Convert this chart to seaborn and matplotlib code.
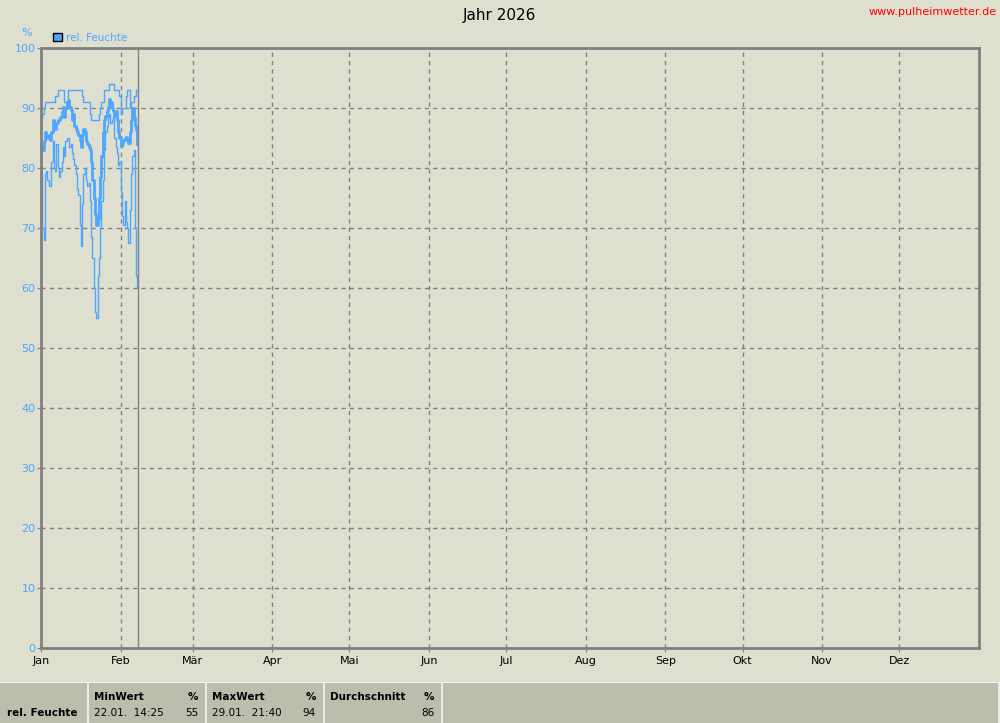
import matplotlib
matplotlib.use("Agg")
import matplotlib.pyplot as plt
import pandas as pd
import seaborn as sns
from matplotlib.patches import Rectangle, Patch

months = ["Jan", "Feb", "Mär", "Apr", "Mai", "Jun", "Jul", "Aug", "Sep", "Okt", "Nov", "Dez"]
month_start = [0, 31, 59, 90, 120, 151, 181, 212, 243, 273, 304, 334]
today = 37.6

# half-day steps since 1 Jan
day = [i / 2 for i in range(76)]

hum_max = [88, 89, 90, 91, 91, 91, 91, 91, 91, 91,
           91, 92, 92, 93, 93, 93, 93, 93, 91, 91,
           91, 93, 93, 93, 93, 93, 93, 93, 93, 93,
           93, 93, 92, 91, 91, 91, 91, 91, 89, 88,
           88, 88, 88, 88, 88, 89, 90, 91, 91, 93,
           93, 93, 93, 94, 94, 94, 94, 93, 93, 93,
           93, 92, 89, 90, 90, 90, 92, 93, 93, 90,
           91, 91, 92, 92, 93, 93]

hum_avg = [83.6, 83, 84.5, 86, 85.5, 85, 85.5, 84.7, 86, 88,
           87, 86.5, 87.5, 88, 88, 88.5, 89.4, 90.2, 88.5, 90,
           91, 91.3, 90.2, 89.6, 88, 89, 87, 86.5, 86, 85.5,
           84.7, 83.5, 85.5, 86.5, 86, 84.5, 84, 83.5, 83, 81,
           78, 75, 72.4, 70.5, 71.5, 75, 78.5, 82, 86, 88,
           88.6, 89.5, 90.2, 91.5, 91, 90, 89.5, 88.6, 89.5, 88,
           86, 85, 83.6, 84, 84.7, 85, 85.2, 84.7, 84.2, 86,
           88, 90, 88.5, 87, 86.3, 84]

hum_min = [79, 70, 68, 79, 79.5, 78, 77, 77, 81, 84.5,
           80, 79.5, 84, 80, 78.5, 79.5, 81, 83.5, 82, 84.5,
           85, 85, 83.5, 84, 82.5, 81.5, 80.5, 79, 76.5, 75.5,
           70.5, 67, 74, 79, 80, 78, 77, 77.5, 74.5, 68.5,
           65, 60, 56, 55, 62, 65, 70, 74.5, 78, 83,
           86, 87, 88.5, 89, 87.5, 88, 88.5, 85, 83.5, 82.5,
           80.5, 81, 76, 72, 70.5, 74.5, 71, 70, 67.5, 73,
           79, 82, 83, 70, 62, 60]

df = pd.DataFrame({"day": day, "max": hum_max, "avg": hum_avg, "min": hum_min})

bg = "#dfdfd0"
blue = "#4da6ff"
grey = "#808080"

plt.rcParams["font.family"] = ["DejaVu Sans"]
fig = plt.figure(figsize=(10, 7.23), dpi=100, facecolor=bg)
ax = fig.add_axes([0.041, 0.1037, 0.938, 0.83], facecolor=bg)

sns.lineplot(data=df, x="day", y="max", ax=ax, color=blue, lw=1, drawstyle="steps-post")
sns.lineplot(data=df, x="day", y="min", ax=ax, color=blue, lw=1, drawstyle="steps-post")
sns.lineplot(data=df, x="day", y="avg", ax=ax, color=blue, lw=2, drawstyle="steps-post")
ax.axvline(today, color=grey, lw=1)

ax.set_xlim(0, 365)
ax.set_ylim(0, 100)
ax.set_xticks(month_start)
ax.set_xticklabels(months, fontsize=8)
ax.set_yticks(range(0, 101, 10))
ax.tick_params(axis="y", colors=grey, labelcolor=blue, labelsize=8, length=3, pad=1)
ax.tick_params(axis="x", colors=grey, labelcolor="black", length=3, pad=3)
ax.grid(True, color=grey, ls=(0, (3, 3)), lw=1)
for s in ax.spines.values():
    s.set_color(grey)
    s.set_linewidth(2)
ax.set_xlabel("")
ax.set_ylabel("")

fig.text(0.5, 0.978, "Jahr 2026", ha="center", va="center", fontsize=11)
fig.text(0.997, 0.983, "www.pulheimwetter.de", ha="right", va="center", fontsize=8, color="red")
fig.text(0.027, 0.954, "%", ha="center", va="center", fontsize=8, color=blue)
fig.legend(handles=[Patch(facecolor=blue, edgecolor="black", lw=1)], labels=["rel. Feuchte"],
           loc="center left", bbox_to_anchor=(0.044, 0.948), frameon=False,
           handlelength=0.8, handleheight=0.8, handletextpad=0.4, fontsize=7.5, labelcolor=blue)

# summary table at the bottom
H = 723
panel = "#bdbdad"
fig.patches.append(Rectangle((0, 0), 1, 40 / H, transform=fig.transFigure, facecolor=panel,
                             edgecolor="none", zorder=0))
fig.patches.append(Rectangle((0, 40 / H), 1, 1.5 / H, transform=fig.transFigure, facecolor="#f4f4ee",
                             edgecolor="none", zorder=1))
for xs in [87, 205, 323, 441, 998]:
    fig.patches.append(Rectangle((xs / 1000, 0), 1.5 / 1000, 40 / H, transform=fig.transFigure,
                                 facecolor="#ececE4", edgecolor="none", zorder=1))

ytop = 1 - 697 / H
ybot = 1 - 713 / H
fig.text(0.007, ybot, "rel. Feuchte", fontsize=7.5, weight="bold", va="center")
cells = [(94, 198, "MinWert", "22.01.  14:25", "55"),
         (212, 316, "MaxWert", "29.01.  21:40", "94"),
         (330, 434, "Durchschnitt", "", "86")]
for x0, x1, head, when, val in cells:
    fig.text(x0 / 1000, ytop, head, fontsize=7.5, weight="bold", va="center")
    fig.text(x1 / 1000, ytop, "%", fontsize=7.5, weight="bold", va="center", ha="right")
    fig.text(x0 / 1000, ybot, when, fontsize=7.5, va="center")
    fig.text(x1 / 1000, ybot, val, fontsize=7.5, va="center", ha="right")

fig.savefig("out.png", dpi=100, facecolor=bg)
